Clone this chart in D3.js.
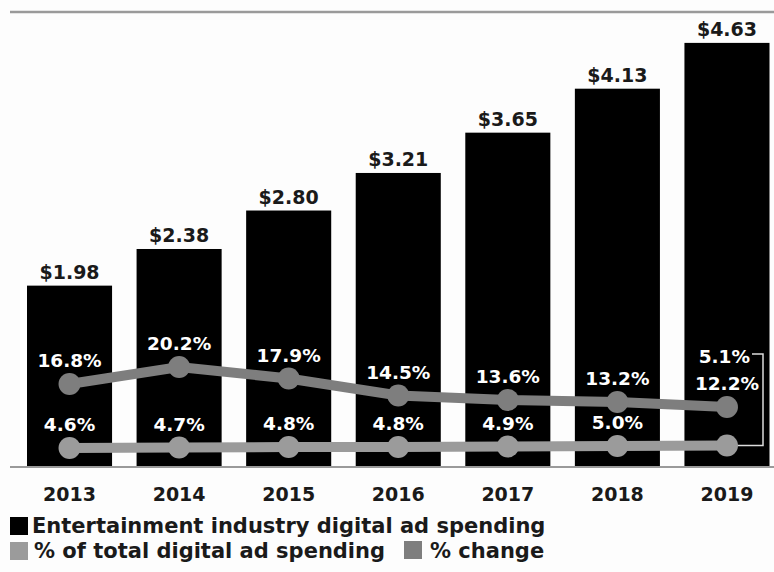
<!DOCTYPE html>
<html>
<head>
<meta charset="utf-8">
<script src="https://cdn.jsdelivr.net/npm/d3@7"></script>
<style>
  html, body { margin: 0; padding: 0; background: #fdfdfd; }
  svg { display: block; font-family: "DejaVu Sans", "Liberation Sans", Arial, sans-serif; font-weight: 700; }
</style>
</head>
<body>
<svg id="chart" width="774" height="572"></svg>
<script>
// Entertainment industry digital ad spending, billions of US dollars
const years = ["2013", "2014", "2015", "2016", "2017", "2018", "2019"];
const spending = [1.98, 2.38, 2.80, 3.21, 3.65, 4.13, 4.63];
// share of total digital ad spending, %
const shareOfTotal = [4.6, 4.7, 4.8, 4.8, 4.9, 5.0, 5.1];
// year-over-year change, %
const pctChange = [16.8, 20.2, 17.9, 14.5, 13.6, 13.2, 12.2];
const legendLabels = ["Entertainment industry digital ad spending", "% of total digital ad spending", "% change"];

const colors = { bar: "#000000", share: "#9b9b9b", change: "#7e7e7e", rule: "#9a9a9a", text: "#1a1a1a" };
const fontFamily = '"DejaVu Sans", "Liberation Sans", Arial, sans-serif';

const svg = d3.select("#chart");
const baseY = 467;

const x = d3.scaleBand().domain(years).range([27, 769.5]).paddingInner(0.2237).paddingOuter(0);
const y = d3.scaleLinear().domain([0, 5]).range([baseY, baseY - 5 * 91.6]);
const yChange = d3.scaleLinear().domain([0, 20]).range([468, 368]);
const yShare = d3.scaleLinear().domain([0, 5]).range([471, 446]);
const cx = d => x(d) + x.bandwidth() / 2;

// top rule
svg.append("line").attr("x1", 10).attr("x2", 774).attr("y1", 12).attr("y2", 12)
  .attr("stroke", colors.rule).attr("stroke-width", 2.5);

// bars
svg.append("g").selectAll("rect").data(years).join("rect")
  .attr("x", d => x(d)).attr("width", x.bandwidth())
  .attr("y", (d, i) => y(spending[i])).attr("height", (d, i) => baseY - y(spending[i]))
  .attr("fill", colors.bar);

// bar value labels
svg.append("g").selectAll("text").data(years).join("text")
  .attr("x", cx).attr("y", (d, i) => y(spending[i]) - 7)
  .attr("text-anchor", "middle").attr("font-size", 19).attr("fill", colors.text)
  .text((d, i) => "$" + spending[i].toFixed(2));

// baseline
svg.append("line").attr("x1", 10).attr("x2", 774).attr("y1", baseY).attr("y2", baseY)
  .attr("stroke", colors.rule).attr("stroke-width", 2);

// x axis
const xAxis = d3.axisBottom(x).tickSize(0).tickPadding(21);
const gx = svg.append("g").attr("transform", `translate(0,${baseY})`).call(xAxis);
gx.select(".domain").remove();
gx.selectAll("text").attr("font-size", 19).attr("font-weight", 700).attr("fill", colors.text)
  .attr("font-family", fontFamily);

// connector for the 2019 share label
const last = years.length - 1;
svg.append("path")
  .attr("d", d3.line()([[752, 354], [763, 354], [763, yShare(shareOfTotal[last])], [cx(years[last]), yShare(shareOfTotal[last])]]))
  .attr("fill", "none").attr("stroke", "#dcdcdc").attr("stroke-width", 1.5);

// share-of-total line
const shareLine = d3.line().x((d, i) => cx(years[i])).y(d => yShare(d));
svg.append("path").datum(shareOfTotal).attr("d", shareLine)
  .attr("fill", "none").attr("stroke", colors.share).attr("stroke-width", 10);
svg.append("g").selectAll("circle").data(shareOfTotal).join("circle")
  .attr("cx", (d, i) => cx(years[i])).attr("cy", d => yShare(d)).attr("r", 11)
  .attr("fill", colors.share);

// percent-change line
const changeLine = d3.line().x((d, i) => cx(years[i])).y(d => yChange(d));
svg.append("path").datum(pctChange).attr("d", changeLine)
  .attr("fill", "none").attr("stroke", colors.change).attr("stroke-width", 10);
svg.append("g").selectAll("circle").data(pctChange).join("circle")
  .attr("cx", (d, i) => cx(years[i])).attr("cy", d => yChange(d)).attr("r", 11)
  .attr("fill", colors.change);

// percent labels
svg.append("g").selectAll("text").data(pctChange).join("text")
  .attr("x", (d, i) => cx(years[i])).attr("y", d => yChange(d) - 17)
  .attr("text-anchor", "middle").attr("font-size", 18.5).attr("fill", "#fff")
  .text(d => d.toFixed(1) + "%");
svg.append("g").selectAll("text").data(shareOfTotal).join("text")
  .attr("x", (d, i) => i === last ? 750 : cx(years[i]))
  .attr("y", (d, i) => i === last ? 363 : yShare(d) - 17)
  .attr("text-anchor", (d, i) => i === last ? "end" : "middle")
  .attr("font-size", 18.5).attr("fill", "#fff")
  .text(d => d.toFixed(1) + "%");

// legend
const legend = svg.append("g").attr("font-size", 21).attr("fill", colors.text);
const legendItems = [
  { label: legendLabels[0], color: colors.bar, sx: 10, sy: 517, tx: 32, ty: 533 },
  { label: legendLabels[1], color: colors.share, sx: 10, sy: 542, tx: 34, ty: 558 },
  { label: legendLabels[2], color: colors.change, sx: 404, sy: 541, tx: 430, ty: 558 }
];
legendItems.forEach(it => {
  legend.append("rect").attr("x", it.sx).attr("y", it.sy).attr("width", 18).attr("height", 18).attr("fill", it.color);
  legend.append("text").attr("x", it.tx).attr("y", it.ty).text(it.label);
});
</script>
</body>
</html>
